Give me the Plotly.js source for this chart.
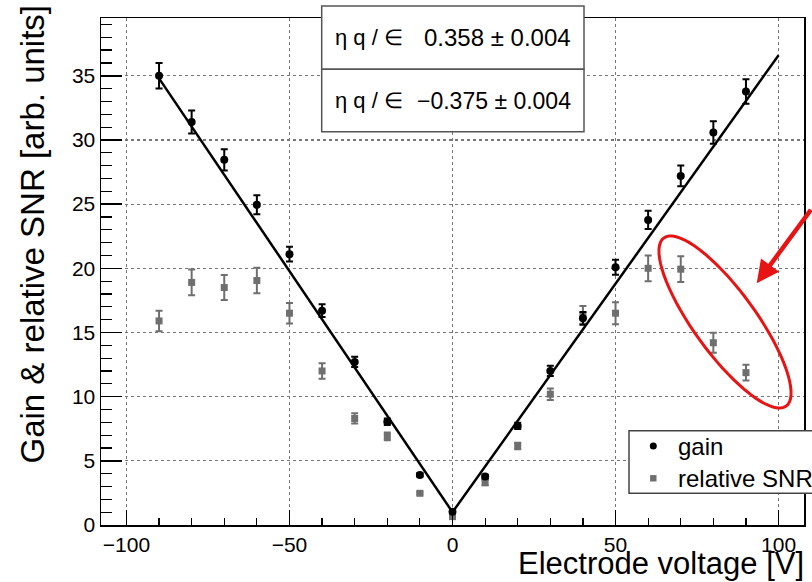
<!DOCTYPE html>
<html>
<head>
<meta charset="utf-8">
<script src="https://cdn.plot.ly/plotly-3.0.1.min.js"></script>
<style>html,body{margin:0;padding:0;background:#fff;}#chart{width:812px;height:582px;}</style>
</head>
<body>
<div id="chart"></div>
<script>
// ---- data ----
var voltage = [-90, -80, -70, -60, -50, -40, -30, -20, -10, 0, 10, 20, 30, 40, 50, 60, 70, 80, 90];
var gain    = [35.0, 31.4, 28.45, 24.95, 21.1, 16.7, 12.7, 8.05, 3.9, 1.04, 3.77, 7.72, 12.0, 16.1, 20.08, 23.77, 27.2, 30.58, 33.77];
var gainErr = [1.0, 0.9, 0.83, 0.74, 0.58, 0.5, 0.4, 0.25, 0.15, 0.1, 0.15, 0.25, 0.4, 0.5, 0.58, 0.71, 0.8, 0.87, 0.96];
var snr     = [15.9, 18.9, 18.5, 19.05, 16.5, 12.0, 8.3, 6.9, 2.47, 0.65, 3.3, 6.16, 10.19, 16.37, 16.5, 20.0, 19.93, 14.2, 11.87];
var snrErr  = [0.8, 1.0, 0.97, 1.0, 0.8, 0.6, 0.4, 0.3, 0.1, 0.15, 0.2, 0.25, 0.45, 0.7, 0.85, 1.0, 1.0, 0.78, 0.61];
var fitLeftX  = [-90, 0];
var fitLeftY  = [34.8, 1.0];
var fitRightX = [0, 100];
var fitRightY = [1.0, 36.6];
var fitLabels = ["0.358 \u00b1 0.004", "\u22120.375 \u00b1 0.004"];
var seriesNames = ["gain", "relative SNR"];
var xTitle = "Electrode voltage [V]";
var yTitle = "Gain &amp; relative SNR [arb. units]";

// ---- layout geometry (pixels) ----
var W = 812, H = 582, L = 101, R = 8, T = 18, B = 57;
var PW = W - L - R, PH = H - T - B;
function px(x) { return (x - L) / PW; }
function py(y) { return (H - B - y) / PH; }

var FONT = "Liberation Sans, Arial, Helvetica, sans-serif";
var gray = "#6f6f6f";

var traces = [
  {x: voltage, y: snr, type: "scatter", mode: "markers", name: seriesNames[1],
   marker: {symbol: "square", size: 7, color: gray},
   error_y: {type: "data", array: snrErr, color: gray, thickness: 2, width: 3.5}},
  {x: voltage, y: gain, type: "scatter", mode: "markers", name: seriesNames[0],
   marker: {symbol: "circle", size: 8, color: "#000"},
   error_y: {type: "data", array: gainErr, color: "#000", thickness: 2, width: 3.5}},
  {x: fitLeftX, y: fitLeftY, type: "scatter", mode: "lines", line: {color: "#000", width: 2.5}, hoverinfo: "skip"},
  {x: fitRightX, y: fitRightY, type: "scatter", mode: "lines", line: {color: "#000", width: 2.5}, hoverinfo: "skip"}
];

// red ellipse (pixel space -> paper)
function ellipsePath(cx, cy, a, b, angDeg) {
  var th = angDeg * Math.PI / 180, ux = Math.cos(th), uy = Math.sin(th), nx = -uy, ny = ux;
  var s = "";
  for (var i = 0; i <= 72; i++) {
    var t = 2 * Math.PI * i / 72;
    var X = cx + a * Math.cos(t) * ux + b * Math.sin(t) * nx;
    var Y = cy + a * Math.cos(t) * uy + b * Math.sin(t) * ny;
    s += (i === 0 ? "M" : "L") + px(X).toFixed(5) + "," + py(Y).toFixed(5);
  }
  return s + "Z";
}

var boxLine = {color: "#555", width: 1.5};
var shapes = [
  {type: "rect", xref: "paper", yref: "paper", x0: px(321.7), x1: px(584), y0: py(69.3), y1: py(6), fillcolor: "#fff", line: boxLine, layer: "above"},
  {type: "rect", xref: "paper", yref: "paper", x0: px(321.7), x1: px(584), y0: py(131.7), y1: py(69.3), fillcolor: "#fff", line: boxLine, layer: "above"},
  {type: "rect", xref: "paper", yref: "paper", x0: px(629), x1: px(840), y0: py(493.3), y1: py(430.7), fillcolor: "#fff", line: {color: "#444", width: 1.5}, layer: "above"},
  {type: "circle", xref: "paper", yref: "paper", xsizemode: "pixel", ysizemode: "pixel",
   xanchor: px(653.3), yanchor: py(446), x0: -3.5, x1: 3.5, y0: -3.5, y1: 3.5, fillcolor: "#000", line: {width: 0}, layer: "above"},
  {type: "rect", xref: "paper", yref: "paper", xsizemode: "pixel", ysizemode: "pixel",
   xanchor: px(653.3), yanchor: py(478.3), x0: -3.2, x1: 3.2, y0: -3.2, y1: 3.2, fillcolor: gray, line: {width: 0}, layer: "above"},
  {type: "path", xref: "paper", yref: "paper", path: ellipsePath(725, 322, 104, 31, 54), line: {color: "rgb(232,20,20)", width: 3}, layer: "above"}
];

var greekFont = {family: FONT, size: 22, color: "#000"};
var legFont = {family: FONT, size: 24, color: "#000"};
var annotations = [
  {xref: "paper", yref: "paper", x: px(333), y: py(38), xanchor: "left", yanchor: "middle", text: "\u03b7 q / \u2208", showarrow: false, font: greekFont},
  {xref: "paper", yref: "paper", x: px(573), y: py(38), xanchor: "right", yanchor: "middle", text: fitLabels[0], showarrow: false, font: {family: FONT, size: 24, color: "#000"}},
  {xref: "paper", yref: "paper", x: px(333), y: py(101), xanchor: "left", yanchor: "middle", text: "\u03b7 q / \u2208", showarrow: false, font: greekFont},
  {xref: "paper", yref: "paper", x: px(573), y: py(101), xanchor: "right", yanchor: "middle", text: fitLabels[1], showarrow: false, font: {family: FONT, size: 23, color: "#000"}},
  {xref: "paper", yref: "paper", x: px(676), y: py(446), xanchor: "left", yanchor: "middle", text: seriesNames[0], showarrow: false, font: legFont},
  {xref: "paper", yref: "paper", x: px(676), y: py(478.3), xanchor: "left", yanchor: "middle", text: seriesNames[1], showarrow: false, font: legFont},
  {xref: "paper", yref: "paper", x: px(806), y: py(563), xanchor: "right", yanchor: "middle", text: xTitle, showarrow: false, font: {family: FONT, size: 31, color: "#000"}},
  {xref: "paper", yref: "paper", x: px(32), y: py(3), xanchor: "center", yanchor: "top", textangle: -90, text: yTitle, showarrow: false, font: {family: FONT, size: 33, color: "#000"}},
  {xref: "paper", yref: "paper", x: px(756.7), y: py(283.3), text: "", showarrow: true, axref: "pixel", ayref: "pixel", ax: 75, ay: -75,
   arrowhead: 2, arrowsize: 1, arrowwidth: 4.5, arrowcolor: "rgb(232,20,20)", standoff: 0}
];

var layout = {
  width: W, height: H,
  margin: {l: L, r: R, t: T, b: B, pad: 0},
  paper_bgcolor: "#fff", plot_bgcolor: "#fff",
  showlegend: false,
  font: {family: FONT, size: 21, color: "#000"},
  xaxis: {range: [-107.8, 107.8], tickmode: "linear", tick0: 0, dtick: 50, ticks: "inside", ticklen: 15, tickwidth: 1.5, tickcolor: "#000",
          minor: {dtick: 10, ticks: "inside", ticklen: 7, tickwidth: 1.2, tickcolor: "#000", showgrid: false},
          showline: true, linecolor: "#000", linewidth: 1.5, mirror: true, zeroline: false,
          showgrid: true, gridcolor: "#777", griddash: "dot", gridwidth: 1.2,
          tickfont: {family: FONT, size: 21, color: "#000"}, fixedrange: true},
  yaxis: {range: [0, 39.5], tickmode: "linear", tick0: 0, dtick: 5, ticks: "inside", ticklen: 21, tickwidth: 1.5, tickcolor: "#000",
          minor: {dtick: 1, ticks: "inside", ticklen: 11, tickwidth: 1.2, tickcolor: "#000", showgrid: false},
          showline: true, linecolor: "#000", linewidth: 1.5, mirror: true, zeroline: false,
          showgrid: true, gridcolor: "#777", griddash: "dot", gridwidth: 1.2,
          tickfont: {family: FONT, size: 21, color: "#000"}, fixedrange: true},
  shapes: shapes,
  annotations: annotations
};

Plotly.newPlot("chart", traces, layout, {staticPlot: true, displayModeBar: false});
</script>
</body>
</html>
